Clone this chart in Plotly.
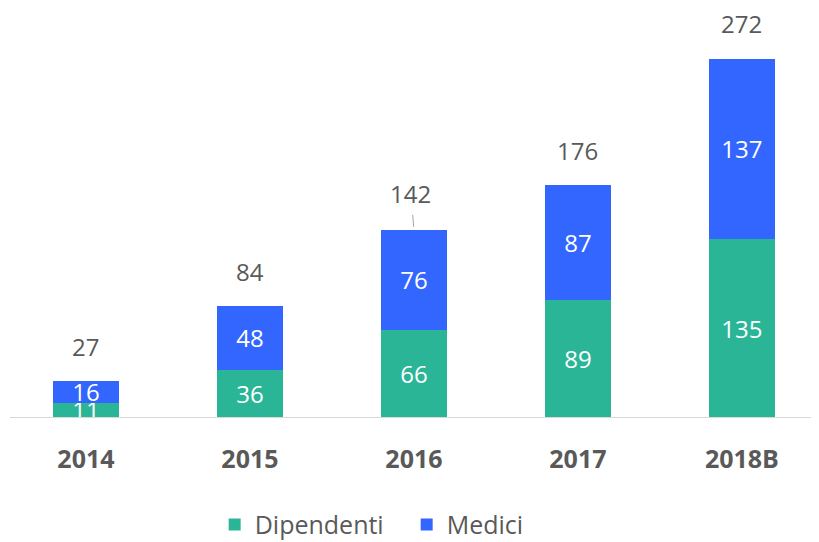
import plotly.graph_objects as go

categories = ["2014", "2015", "2016", "2017", "2018B"]
dipendenti = [11, 36, 66, 89, 135]
medici = [16, 48, 76, 87, 137]
totals = [d + m for d, m in zip(dipendenti, medici)]

GREEN = "#2BB597"
BLUE = "#3366FF"
GRAY = "#595959"
FONT = "Open Sans"

fig = go.Figure()
fig.add_trace(go.Bar(
    x=categories, y=dipendenti, name="Dipendenti",
    marker=dict(color=GREEN, line=dict(width=0)),
    text=[str(v) for v in dipendenti], textposition="inside",
    insidetextanchor="middle", textangle=0,
    textfont=dict(color="white", size=24, family=FONT),
    width=0.4,
))
fig.add_trace(go.Bar(
    x=categories, y=medici, name="Medici",
    marker=dict(color=BLUE, line=dict(width=0)),
    text=[str(v) for v in medici], textposition="inside",
    insidetextanchor="middle", textangle=0,
    textfont=dict(color="white", size=24, family=FONT),
    width=0.4,
))

for i, (c, t) in enumerate(zip(categories, totals)):
    if c == "2016":
        fig.add_annotation(x=i, y=t, text=str(t), showarrow=True, arrowhead=0,
                           arrowwidth=1, arrowcolor="#A6A6A6", ax=-3, ay=-36,
                           standoff=3, startstandoff=3,
                           font=dict(size=24, color=GRAY, family=FONT))
    else:
        fig.add_annotation(x=i, y=t, text=str(t), showarrow=False, yshift=35,
                           font=dict(size=24, color=GRAY, family=FONT))

fig.update_layout(
    barmode="stack",
    width=819, height=542,
    margin=dict(l=2, r=8, t=2, b=129),
    plot_bgcolor="white", paper_bgcolor="white",
    font=dict(family=FONT, color=GRAY),
    uniformtext=dict(minsize=24, mode="show"),
    xaxis=dict(
        type="category",
        range=[-0.463, 4.47], showline=True, linecolor="#D9D9D9", linewidth=1,
        ticks="", showgrid=False, ticklabelstandoff=20,
        tickfont=dict(size=25, color=GRAY, family=FONT, weight="bold"),
    ),
    yaxis=dict(range=[0, 308.8], visible=False, showgrid=False, zeroline=False),
    legend=dict(orientation="h", x=0.253, xanchor="left", y=-0.265, yanchor="middle",
                font=dict(size=25, color=GRAY, family=FONT),
                entrywidth=147, traceorder="normal"),
    showlegend=True,
)

fig.write_html("out.html")
